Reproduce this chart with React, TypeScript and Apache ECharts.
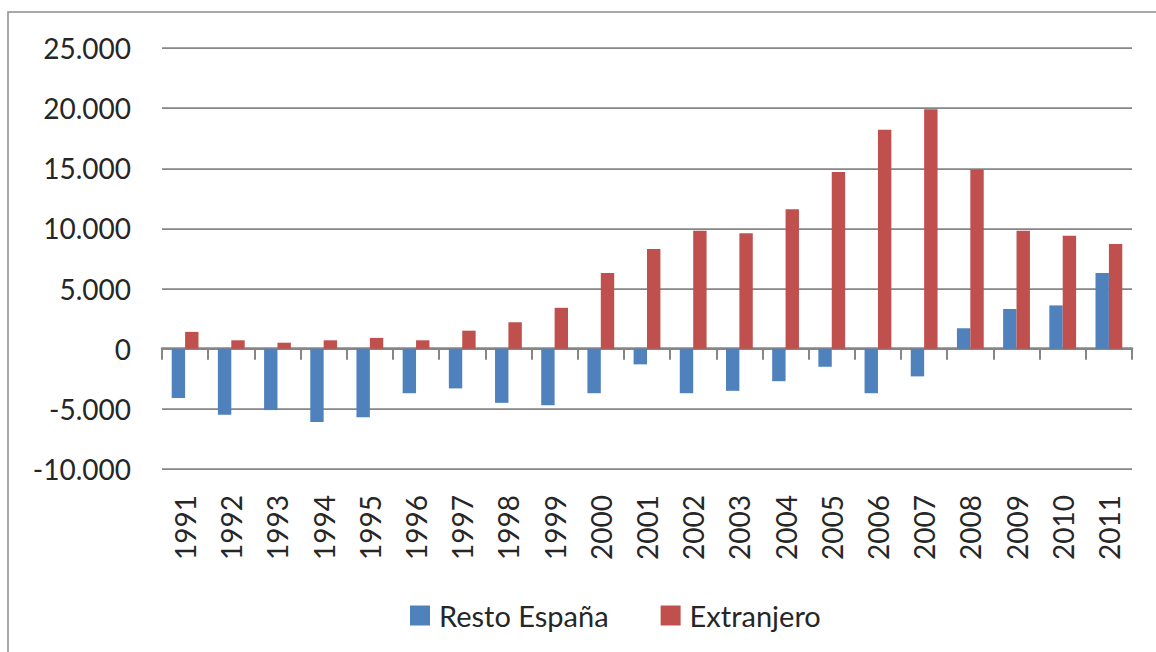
import React, { useEffect, useRef } from "react";
import * as echarts from "echarts";

const years = ["1991","1992","1993","1994","1995","1996","1997","1998","1999","2000","2001","2002","2003","2004","2005","2006","2007","2008","2009","2010","2011"];
const restoEspana = [-4100,-5500,-5100,-6100,-5700,-3700,-3300,-4500,-4700,-3700,-1300,-3700,-3500,-2700,-1500,-3700,-2300,1700,3300,3600,6300];
const extranjero = [1400,700,500,700,900,700,1500,2200,3400,6300,8300,9800,9600,11600,14700,18200,19900,14900,9800,9400,8700];
const yMin = -10000;
const yMax = 25000;
const yStep = 5000;

const FONT = "Lato";
const TEXT = "#262626";
const GRAY = "#868686";

function fmt(v: number): string {
  const s = Math.abs(v).toString().replace(/\B(?=(\d{3})+(?!\d))/g, ".");
  return (v < 0 ? "-" : "") + s;
}

export default function App() {
  const ref = useRef<HTMLDivElement>(null);
  useEffect(() => {
    document.body.style.margin = "0";
    const chart = echarts.init(ref.current!, null, { renderer: "svg" });
    chart.setOption({
      animation: false,
      backgroundColor: "#ffffff",
      textStyle: { fontFamily: FONT, color: TEXT },
      graphic: [
        {
          type: "rect",
          shape: { x: 8, y: 12, width: 1200, height: 700 },
          style: { fill: "none", stroke: "#8c8c8c", lineWidth: 1.5 },
          silent: true,
        },
      ],
      grid: { left: 162, right: 24, top: 48, bottom: 183 },
      legend: {
        left: 405,
        top: 596,
        icon: "rect",
        itemWidth: 20,
        itemHeight: 20,
        itemGap: 52,
        textStyle: { fontFamily: FONT, fontSize: 29, color: TEXT, padding: [0, 0, 0, 4] },
        data: ["Resto España", "Extranjero"],
      },
      xAxis: [
        {
          type: "category",
          data: years,
          position: "bottom",
          axisLine: { onZero: true, lineStyle: { color: GRAY, width: 2.5 } },
          axisTick: { show: true, length: 11, lineStyle: { color: GRAY, width: 2 } },
          axisLabel: { show: false },
          splitLine: { show: false },
        },
        {
          type: "category",
          data: years,
          position: "bottom",
          axisLine: { show: false, onZero: false },
          axisTick: { show: false },
          axisLabel: {
            show: true,
            interval: 0,
            rotate: 90,
            margin: 26,
            fontFamily: FONT,
            fontSize: 28,
            color: TEXT,
          },
          splitLine: { show: false },
        },
      ],
      yAxis: {
        type: "value",
        min: yMin,
        max: yMax,
        interval: yStep,
        axisLine: { show: false },
        axisTick: { show: false },
        axisLabel: {
          margin: 31,
          fontFamily: FONT,
          fontSize: 28,
          color: TEXT,
          formatter: (v: number) => fmt(v),
        },
        splitLine: { show: true, lineStyle: { color: GRAY, width: 1.75 } },
      },
      series: [
        {
          name: "Resto España",
          type: "bar",
          xAxisIndex: 0,
          data: restoEspana,
          itemStyle: { color: "#4F81BD" },
          barGap: "0%",
          barCategoryGap: "42%",
        },
        {
          name: "Extranjero",
          type: "bar",
          xAxisIndex: 0,
          data: extranjero,
          itemStyle: { color: "#C0504D" },
          barGap: "0%",
          barCategoryGap: "42%",
        },
      ],
    });
    return () => chart.dispose();
  }, []);
  return <div ref={ref} style={{ width: 1156, height: 652 }} />;
}
